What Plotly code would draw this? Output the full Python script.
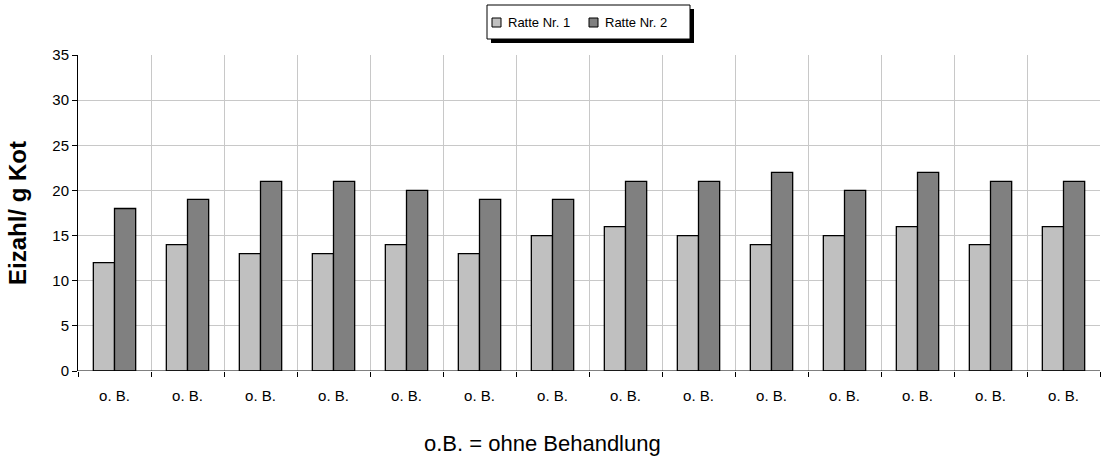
import plotly.graph_objects as go

categories = ["o. B."] * 14
series_names = ["Ratte Nr. 1", "Ratte Nr. 2"]
ratte1 = [12, 14, 13, 13, 14, 13, 15, 16, 15, 14, 15, 16, 14, 16]
ratte2 = [18, 19, 21, 21, 20, 19, 19, 21, 21, 22, 20, 22, 21, 21]
y_ticks = [0, 5, 10, 15, 20, 25, 30, 35]
colors = ["#c0c0c0", "#808080"]

FONT = "Liberation Sans, Arial, sans-serif"
W, H = 1104, 459
ML, MR, MT, MB = 78, 4, 55, 88
PW, PH = W - ML - MR, H - MT - MB


def px_x(x):
    """pixel x -> paper x"""
    return (x - ML) / PW


def px_y(y):
    """pixel y (from top) -> paper y"""
    return 1 - (y - MT) / PH


xpos = list(range(len(categories)))

fig = go.Figure()
for name, vals, col in zip(series_names, [ratte1, ratte2], colors):
    fig.add_bar(x=xpos, y=vals, name=name,
                marker=dict(color=col, line=dict(color="black", width=1.3)))

# boxed legend with drop shadow
lx0, lx1, ly0, ly1 = 487, 690, 5, 39
fig.add_shape(type="rect", xref="paper", yref="paper", layer="above",
              x0=px_x(lx0 + 4), x1=px_x(lx1 + 4), y0=px_y(ly1 + 4), y1=px_y(ly0 + 4),
              fillcolor="black", line=dict(width=0))
fig.add_shape(type="rect", xref="paper", yref="paper", layer="above",
              x0=px_x(lx0), x1=px_x(lx1), y0=px_y(ly1), y1=px_y(ly0),
              fillcolor="white", line=dict(color="black", width=1))
for name, col, sx in zip(series_names, colors, [492, 589]):
    fig.add_shape(type="rect", xref="paper", yref="paper", layer="above",
                  x0=px_x(sx), x1=px_x(sx + 9), y0=px_y(27), y1=px_y(18),
                  fillcolor=col, line=dict(color="black", width=1))
    fig.add_annotation(text=name, xref="paper", yref="paper",
                       x=px_x(sx + 14), y=px_y(22.5), xanchor="left", yanchor="middle",
                       showarrow=False, font=dict(family=FONT, size=13, color="black"))

fig.add_annotation(text="o.B. = ohne Behandlung", xref="paper", yref="paper",
                   x=px_x(542), y=px_y(443), xanchor="center", yanchor="middle",
                   showarrow=False, font=dict(family=FONT, size=22, color="black"))

fig.update_layout(
    width=W, height=H,
    margin=dict(l=ML, r=MR, t=MT, b=MB),
    paper_bgcolor="white", plot_bgcolor="white",
    barmode="group", bargap=0.42, bargroupgap=0,
    font=dict(family=FONT, size=15, color="black"),
    showlegend=False,
    xaxis=dict(range=[-0.5, len(categories) - 0.5],
               tickmode="array", tickvals=xpos, ticktext=categories,
               ticks="", ticklabelstandoff=14, showgrid=False, showline=False,
               zeroline=False, tickfont=dict(family=FONT, size=15),
               minor=dict(tickmode="array",
                          tickvals=[i - 0.5 for i in range(len(categories) + 1)],
                          ticks="outside", ticklen=5, tickcolor="black",
                          showgrid=True, gridcolor="#c8c8c8", gridwidth=1)),
    yaxis=dict(range=[0, 35], tickmode="array", tickvals=y_ticks,
               ticks="outside", ticklen=5, tickcolor="black",
               showgrid=True, gridcolor="#c8c8c8", gridwidth=1,
               showline=True, linecolor="black", linewidth=1, zeroline=False,
               tickfont=dict(family=FONT, size=15),
               title=dict(text="<b>Eizahl/ g Kot</b>", font=dict(family=FONT, size=24),
                          standoff=18)),
)
# x baseline
fig.add_shape(type="line", xref="paper", yref="y", x0=0, x1=1, y0=0, y1=0,
              line=dict(color="black", width=1), layer="above")

fig.write_html("out.html")
